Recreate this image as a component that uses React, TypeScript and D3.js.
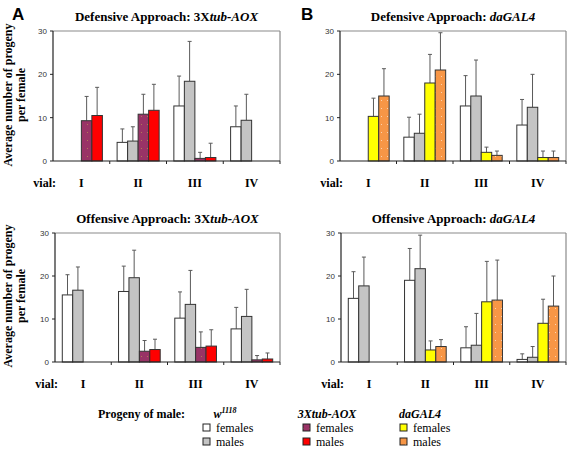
import React from "react";
import * as d3 from "d3";

const vials = ["I", "II", "III", "IV"];
const yTicks = [0, 10, 20, 30];

// series order: w1118 females, w1118 males, transgene females, transgene males
const defAoxMean = [[0, 0, 9.3, 10.5], [4.3, 4.6, 10.8, 11.7], [12.7, 18.4, 0.6, 0.8], [7.9, 9.4, 0, 0]];
const defAoxErr = [[0, 0, 14.9, 17.0], [7.4, 7.9, 15.4, 17.7], [19.6, 27.6, 2.0, 4.1], [12.7, 15.4, 0, 0]];
const defGalMean = [[0, 0, 10.3, 15.0], [5.5, 6.4, 18.0, 21.0], [12.7, 15.0, 2.0, 1.3], [8.3, 12.4, 0.8, 0.8]];
const defGalErr = [[0, 0, 14.5, 21.3], [10.1, 10.8, 24.6, 29.6], [19.7, 23.3, 3.2, 2.3], [14.2, 20.0, 2.3, 2.3]];
const offAoxMean = [[15.6, 16.7, 0, 0], [16.4, 19.6, 2.5, 2.9], [10.2, 13.4, 3.4, 3.7], [7.7, 10.6, 0.5, 0.7]];
const offAoxErr = [[20.3, 22.1, 0, 0], [22.3, 26.0, 5.0, 5.3], [16.3, 21.3, 7.0, 7.5], [12.7, 16.9, 1.5, 2.1]];
const offGalMean = [[14.8, 17.7, 0, 0], [19.0, 21.7, 2.8, 3.6], [3.3, 3.9, 14.0, 14.4], [0.6, 1.1, 9.0, 13.0]];
const offGalErr = [[21.0, 24.4, 0, 0], [26.4, 29.5, 4.9, 5.2], [8.2, 11.3, 23.4, 23.7], [1.9, 3.6, 14.6, 20.0]];

const aoxFills = ["#ffffff", "#c4c4c4", "url(#patPurple)", "#ff0000"];
const galFills = ["#ffffff", "#c4c4c4", "#ffff00", "url(#patOrange)"];

const SERIF = "'Liberation Serif', 'Times New Roman', serif";
const SANS = "'Liberation Sans', Arial, sans-serif";

type PanelProps = {
  x0: number; x1: number; yTop: number; yBottom: number;
  title: string; titleItalic: string;
  means: number[][]; errs: number[][]; fills: string[];
};

function Panel({ x0, x1, yTop, yBottom, title, titleItalic, means, errs, fills }: PanelProps) {
  const x = d3.scaleBand<string>().domain(vials).range([x0, x1]).padding(0);
  const inner = d3.scaleBand<number>().domain([0, 1, 2, 3]).range([0, x.bandwidth()]).paddingInner(0).paddingOuter(0.7);
  const y = d3.scaleLinear().domain([0, 30]).range([yBottom, yTop]);
  const bw = inner.bandwidth();
  const cx = (x0 + x1) / 2;
  return (
    <g>
      <text x={cx} y={yTop - 10} textAnchor="middle" fontFamily={SERIF} fontWeight="bold" fontSize={13}>
        {title}<tspan fontStyle="italic">{titleItalic}</tspan>
      </text>
      {/* frame */}
      <line x1={x0} x2={x1} y1={yTop} y2={yTop} stroke="#8a8a8a" strokeWidth={1.2} />
      <line x1={x1} x2={x1} y1={yTop} y2={yBottom} stroke="#8a8a8a" strokeWidth={1.2} />
      {/* bars */}
      {vials.map((v, i) =>
        means[i].map((m, j) => {
          if (m <= 0) return null;
          const bx = (x(v) as number) + (inner(j) as number);
          const e = errs[i][j];
          const mx = bx + bw / 2;
          return (
            <g key={v + j}>
              {e > m && (
                <g stroke="#5a5a5a" strokeWidth={1}>
                  <line x1={mx} x2={mx} y1={y(m)} y2={y(e)} />
                  <line x1={mx - 2} x2={mx + 2} y1={y(e)} y2={y(e)} />
                </g>
              )}
              <rect x={bx} y={y(m)} width={bw} height={y(0) - y(m)} fill={fills[j]} stroke="#333" strokeWidth={1} />
            </g>
          );
        })
      )}
      {/* y axis */}
      <line x1={x0} x2={x0} y1={yTop} y2={yBottom} stroke="#222" strokeWidth={1.2} />
      {yTicks.map((t) => (
        <g key={t}>
          <line x1={x0 - 3} x2={x0} y1={y(t)} y2={y(t)} stroke="#222" />
          <text x={x0 - 6} y={y(t) + 3} textAnchor="end" fontFamily={SANS} fontSize={8} fill="#333">{t}</text>
        </g>
      ))}
      {/* x axis */}
      <line x1={x0} x2={x1} y1={yBottom} y2={yBottom} stroke="#222" strokeWidth={1.2} />
      {vials.map((v) => (
        <line key={v} x1={(x(v) as number) + x.bandwidth()} x2={(x(v) as number) + x.bandwidth()} y1={yBottom} y2={yBottom + 3} stroke="#222" />
      ))}
      <text x={x0 + 3} y={yBottom + 26} textAnchor="end" fontFamily={SERIF} fontWeight="bold" fontSize={12}>vial:</text>
      {vials.map((v) => (
        <text key={v} x={(x(v) as number) + x.bandwidth() / 2} y={yBottom + 26} textAnchor="middle" fontFamily={SERIF} fontWeight="bold" fontSize={12}>{v}</text>
      ))}
    </g>
  );
}

function YLabel({ cy }: { cy: number }) {
  return (
    <g fontFamily={SERIF} fontWeight="bold" fontSize={12} textAnchor="middle">
      <text transform={`translate(12,${cy}) rotate(-90)`}>Average number of progeny</text>
      <text transform={`translate(25,${cy}) rotate(-90)`}>per female</text>
    </g>
  );
}

const legendGroups = [
  { cx: 225, sx: 203, fills: ["#ffffff", "#c4c4c4"] },
  { cx: 327, sx: 303, fills: ["url(#patPurple)", "#ff0000"] },
  { cx: 420, sx: 400, fills: ["#ffff00", "url(#patOrange)"] },
];
const legendLabels = ["females", "males"];

export default function App() {
  return (
    <svg width={567} height={449} style={{ position: "absolute", left: 0, top: 0, background: "#fff" }}>
      <defs>
        <pattern id="patPurple" width={6} height={8} patternUnits="userSpaceOnUse">
          <rect width={6} height={8} fill="#993366" />
          <rect x={3} y={4} width={1} height={1} fill="#b27a55" />
        </pattern>
        <pattern id="patOrange" width={6} height={8} patternUnits="userSpaceOnUse">
          <rect width={6} height={8} fill="#f79646" />
          <rect x={3} y={4} width={1} height={1} fill="#fbd3b0" />
        </pattern>
      </defs>
      <rect width={567} height={449} fill="#fff" />
      <text x={12} y={20} fontFamily={SANS} fontWeight="bold" fontSize={17}>A</text>
      <text x={301} y={20} fontFamily={SANS} fontWeight="bold" fontSize={17}>B</text>
      <YLabel cy={95} />
      <YLabel cy={296} />
      <Panel x0={53} x1={280} yTop={31} yBottom={161} title="Defensive Approach: 3X" titleItalic="tub-AOX" means={defAoxMean} errs={defAoxErr} fills={aoxFills} />
      <Panel x0={340} x1={566} yTop={31} yBottom={161} title="Defensive Approach: " titleItalic="daGAL4" means={defGalMean} errs={defGalErr} fills={galFills} />
      <Panel x0={55} x1={280} yTop={233} yBottom={362} title="Offensive Approach: 3X" titleItalic="tub-AOX" means={offAoxMean} errs={offAoxErr} fills={aoxFills} />
      <Panel x0={341} x1={566} yTop={233} yBottom={362} title="Offensive Approach: " titleItalic="daGAL4" means={offGalMean} errs={offGalErr} fills={galFills} />
      {/* legend */}
      <text x={98} y={418} fontFamily={SERIF} fontWeight="bold" fontSize={12}>Progeny of male:</text>
      <text x={225} y={418} textAnchor="middle" fontFamily={SERIF} fontWeight="bold" fontStyle="italic" fontSize={12}>
        w<tspan fontSize={8} dy={-5}>1118</tspan>
      </text>
      <text x={327} y={418} textAnchor="middle" fontFamily={SERIF} fontWeight="bold" fontStyle="italic" fontSize={12}>3Xtub-AOX</text>
      <text x={420} y={418} textAnchor="middle" fontFamily={SERIF} fontWeight="bold" fontStyle="italic" fontSize={12}>daGAL4</text>
      {legendGroups.map((g, gi) =>
        g.fills.map((f, k) => (
          <g key={gi + "-" + k}>
            <rect x={g.sx} y={424 + k * 14} width={7} height={7} fill={f} stroke="#222" strokeWidth={1} />
            <text x={g.sx + 13} y={432 + k * 14} fontFamily={SERIF} fontSize={12}>{legendLabels[k]}</text>
          </g>
        ))
      )}
    </svg>
  );
}
